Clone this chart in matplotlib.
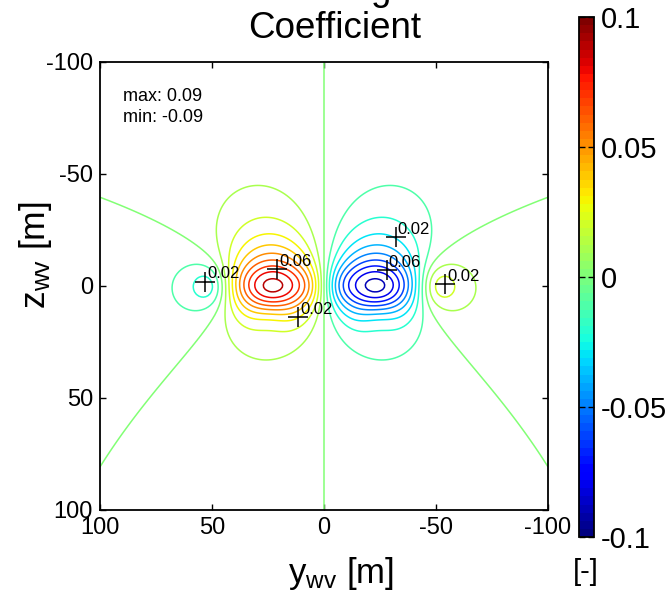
import numpy as np
import matplotlib
matplotlib.use("Agg")
import matplotlib.pyplot as plt
from matplotlib import cm, colors

plt.rcParams['font.family'] = ['Liberation Sans', 'DejaVu Sans']
plt.rcParams['mathtext.fontset'] = 'custom'
plt.rcParams['mathtext.rm'] = 'Liberation Sans'
plt.rcParams['mathtext.it'] = 'Liberation Sans:italic'

# wake vortex pair and follower aircraft
vortex_y = [24.0, -24.0]
vortex_z = [0.0, 0.0]
vortex_sign = [1.0, -1.0]
core_radius = 8.0
wing_span = 50.0
fin_height = 12.0
fin_weight = 1.2
peak_value = 0.094

# marked positions with their labels
marker_y = [53.0, 21.0, 11.5, -32.0, -28.0, -54.0]
marker_z = [-2.0, -7.5, 13.7, -22.0, -7.0, -1.0]
marker_text = ['0.02', '0.06', '0.02', '0.02', '0.06', '0.02']

contour_levels = [round(0.01 * k, 2) for k in range(-9, 10)]
axis_ticks = [100, 50, 0, -50, -100]
cbar_ticks = [-0.1, -0.05, 0, 0.05, 0.1]
cbar_ticklabels = ['-0.1', '-0.05', '0', '0.05', '0.1']

y = np.linspace(-100, 100, 200)
z = np.linspace(-100, 100, 200)
Y, Z = np.meshgrid(y, z)

# strip theory rolling moment: wing + vertical fin in Lamb-Oseen vortex pair
s = np.linspace(-wing_span / 2, wing_span / 2, 113)
t = np.linspace(0, fin_height, 25)
cl = np.zeros_like(Y)
for y0, z0, sg in zip(vortex_y, vortex_z, vortex_sign):
    dy = Y[..., None] + s - y0
    dz = Z[..., None] - z0 + 0 * s
    r2 = dy ** 2 + dz ** 2 + 1e-9
    w = sg * dy / r2 * (1 - np.exp(-1.2526 * r2 / core_radius ** 2))
    cl += np.trapezoid(w * s, s, axis=-1)
    dy = (Y - y0)[..., None] + 0 * t
    dz = Z[..., None] - t - z0
    r2 = dy ** 2 + dz ** 2 + 1e-9
    v = -sg * dz / r2 * (1 - np.exp(-1.2526 * r2 / core_radius ** 2))
    cl += fin_weight * np.trapezoid(v * t, t, axis=-1)
cl = cl / np.abs(cl).max() * peak_value

W, H = 667, 595
fig = plt.figure(figsize=(W / 100, H / 100), dpi=100)
ax = fig.add_axes([100 / W, 85 / H, 448 / W, 448 / H])
cax = fig.add_axes([579 / W, 58 / H, 15 / W, 520 / H])

jet = plt.get_cmap('jet', 64)
norm = colors.Normalize(vmin=-0.1, vmax=0.1)
ax.contour(Y, Z, cl, levels=contour_levels, cmap=jet, norm=norm, linewidths=1.1)

for my, mz, mt in zip(marker_y, marker_z, marker_text):
    ax.plot(my, mz, marker='+', color='black', markersize=14, markeredgewidth=1.1)
    ax.annotate(mt, (my, mz), xytext=(1.5, 2.2), textcoords='offset points',
                fontsize=12, ha='left', va='baseline')

ax.set_xlim(100, -100)
ax.set_ylim(100, -100)
ax.set_xticks(axis_ticks)
ax.set_yticks(axis_ticks)
ax.set_xticklabels([str(v) for v in axis_ticks])
ax.set_yticklabels([str(v) for v in axis_ticks])
ax.tick_params(direction='in', length=4, width=1, labelsize=17,
               top=True, right=True, pad=5)
for sp in ax.spines.values():
    sp.set_linewidth(1.3)

ax.text(0.051, 0.924, 'max: 0.09', transform=ax.transAxes, fontsize=13, va='center')
ax.text(0.051, 0.875, 'min: -0.09', transform=ax.transAxes, fontsize=13, va='center')

cb = fig.colorbar(cm.ScalarMappable(norm=norm, cmap=jet), cax=cax)
cb.set_ticks(cbar_ticks)
cb.set_ticklabels(cbar_ticklabels)
cax.tick_params(direction='in', length=4, width=1, labelsize=21,
                left=True, right=True, pad=5)
cb.outline.set_linewidth(1.3)

fig.text(335 / W, 1 - 38 / H, 'Rolling\nCoefficient', fontsize=26.5,
         ha='center', va='baseline', linespacing=1.1)
fig.text(341 / W, 1 - 574 / H, r'y$_{\rm wv}$ [m]', fontsize=25,
         ha='center', va='center')
fig.text(35 / W, 1 - 255 / H, r'z$_{\rm wv}$ [m]', fontsize=25.5,
         ha='center', va='center', rotation=90)
fig.text(586 / W, 1 - 572 / H, '[-]', fontsize=21, ha='center', va='center')

fig.savefig("out.png", dpi=100)
